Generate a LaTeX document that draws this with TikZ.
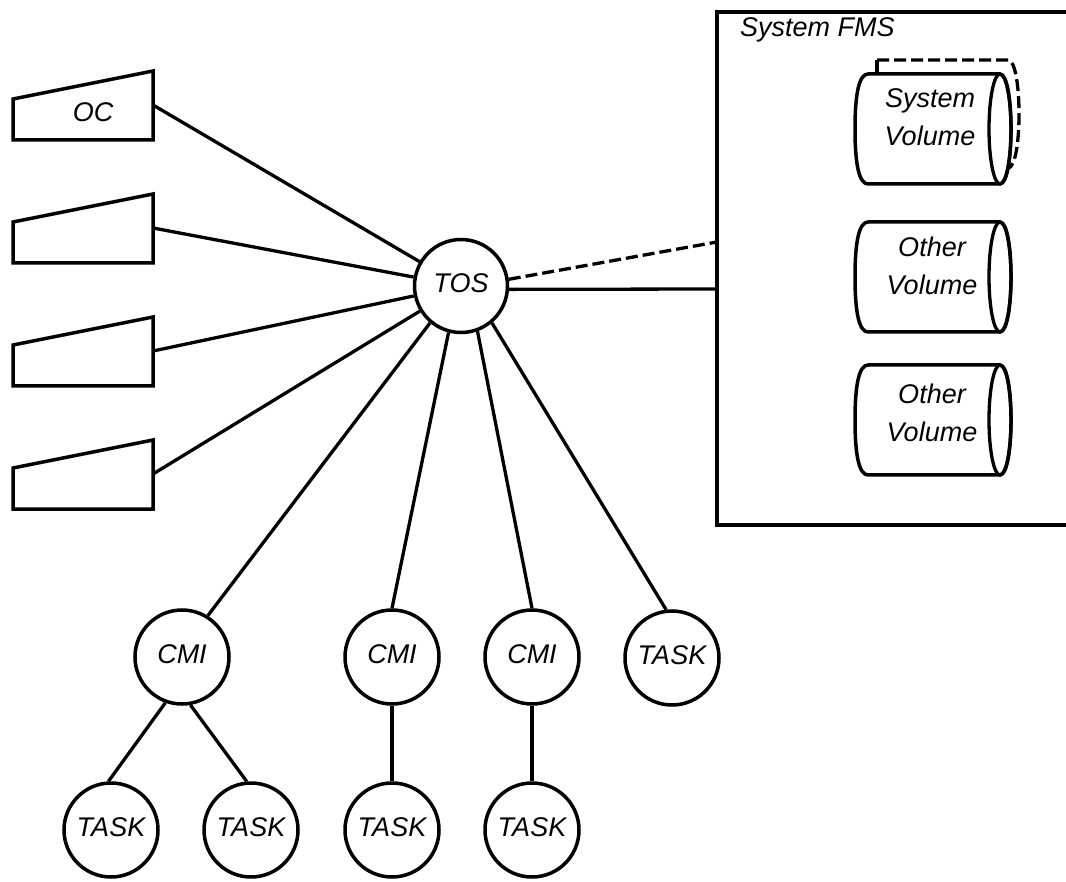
\documentclass[tikz,border=0pt]{standalone}
\usepackage{fontspec}
\setmainfont{Liberation Sans}
\begin{document}
\begin{tikzpicture}[x=1pt,y=-1pt,
  lbl/.style={font=\fontsize{27}{38}\selectfont\itshape, inner sep=0pt},
  proc/.style={circle, draw, line width=3.5pt, minimum size=94pt, inner sep=0pt, fill=white,
               font=\fontsize{27}{38}\selectfont\itshape, text depth=5pt},
  term/.style={draw, line width=3.5pt, line join=miter},
  cylbody/.style={draw, fill=white, line width=3.5pt, line join=round},
  link/.style={line width=3.3pt},
  dlink/.style={line width=3.3pt, dash pattern=on 12pt off 5pt}]
\fill[white] (0,0) rectangle (1066,882);
\useasboundingbox (0,0) rectangle (1066,882);

% processes
\node[proc, minimum size=93pt] (tos) at (461,286) {TOS};
\node[proc] (cmi1) at (182,657) {CMI};
\node[proc] (cmi2) at (392,657) {CMI};
\node[proc] (cmi3) at (532,657) {CMI};
\node[proc] (task0) at (672,658) {TASK};
\node[proc] (task1) at (111,830) {TASK};
\node[proc] (task2) at (251,830) {TASK};
\node[proc] (task3) at (392,830) {TASK};
\node[proc] (task4) at (532,830) {TASK};

\draw[link] (tos.230) -- (cmi1.58);
\draw[link] (tos.255) -- (cmi2.north);
\draw[link] (tos.290) -- (cmi3.north);
\draw[link] (tos.310) -- (task0.97);
\draw[link] (cmi1.250) -- (task1.93);
\draw[link] (cmi1.280) -- (task2.95);
\draw[link] (cmi2.south) -- (task3.north);
\draw[link] (cmi3.south) -- (task4.north);

% terminals
\foreach \i/\dy in {1/0,2/123,3/246,4/369} {
  \draw[term] (13,99+\dy) -- (153,71+\dy) -- (153,140+\dy) -- (13,140+\dy) -- cycle;
  \coordinate (t\i) at (153,105+\dy);
  \draw[link] (t\i) -- (tos);
}
\node[lbl] (oc) at (93,112) {OC};

% System FMS
\coordinate (fmsA) at (717,242);
\coordinate (fmsB) at (717,289);
\draw[link, line width=3.5pt, line join=miter] (1066,12) -- (717,12) -- (717,525) -- (1066,525);
\node[lbl, anchor=base west] (fmslabel) at (740,37) {System FMS};
\draw[dlink] (tos.8) -- (fmsA);
\draw[link] (tos.-4) -- (fmsB);

% back (dashed) system volume
\draw[link] (877,75) -- (877,60);
\draw[dlink] (877,60) -- (1008,60) .. controls (1022.7,60) and (1022.7,168) .. (1008,168);

% volumes
\foreach \t in {74,222,365} {
  \path[cylbody] (1000,\t) -- (868,\t) .. controls (859,\t) and (855,\t+20) .. (855,\t+55)
     .. controls (855,\t+90) and (859,\t+110) .. (868,\t+110) -- (1000,\t+110)
     .. controls (1014.7,\t+110) and (1014.7,\t) .. (1000,\t) -- cycle;
  \draw[link] (1000,\t+55) ellipse [x radius=11, y radius=55];
}
\node[lbl, align=center] (sysvol) at (930,117) {System\\Volume};
\node[lbl, align=center] (othvol1) at (932,266) {Other\\Volume};
\node[lbl, align=center] (othvol2) at (932,413) {Other\\Volume};
\end{tikzpicture}
\end{document}
